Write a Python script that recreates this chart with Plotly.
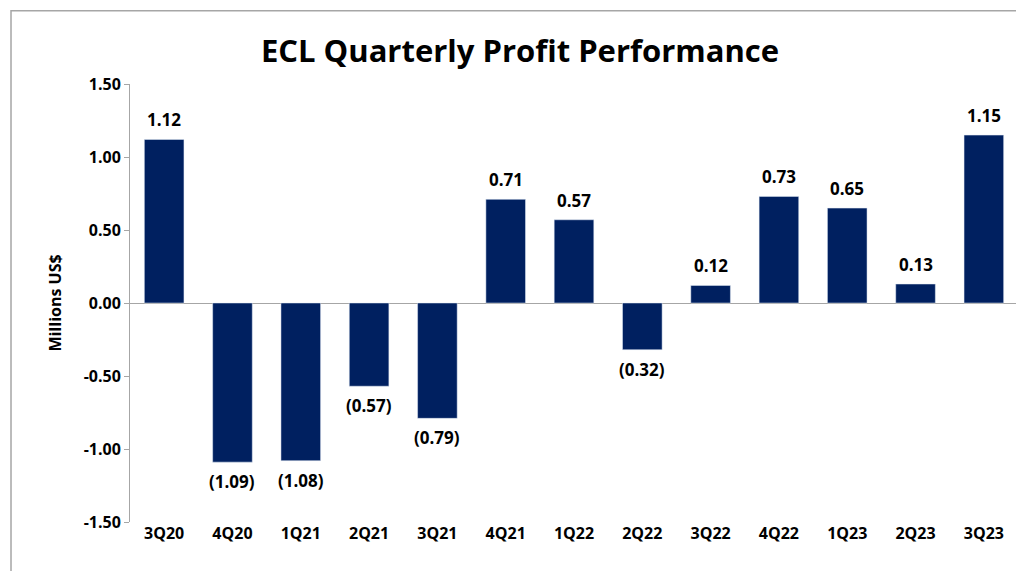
import plotly.graph_objects as go

quarters = ["3Q20","4Q20","1Q21","2Q21","3Q21","4Q21","1Q22","2Q22","3Q22","4Q22","1Q23","2Q23","3Q23"]
profits = [1.12,-1.09,-1.08,-0.57,-0.79,0.71,0.57,-0.32,0.12,0.73,0.65,0.13,1.15]
labels = [f"{v:.2f}" if v >= 0 else f"({abs(v):.2f})" for v in profits]
ytickvals = [-1.5,-1.0,-0.5,0.0,0.5,1.0,1.5]
yticktext = [f"{v:.2f}" for v in ytickvals]

font = dict(family="Open Sans", color="black", weight="bold")
fig = go.Figure(go.Bar(x=quarters, y=profits, marker_color="#002060", width=0.58))
for q, v, t in zip(quarters, profits, labels):
    fig.add_annotation(x=q, y=v, text=t, showarrow=False,
                       yanchor="bottom" if v >= 0 else "top",
                       yshift=6 if v >= 0 else -6, font=dict(size=17, **font))
fig.update_layout(
    width=1024, height=571, paper_bgcolor="white", plot_bgcolor="white",
    margin=dict(l=122, r=14, t=76, b=57, autoexpand=False),
    title=dict(text="<b>ECL Quarterly Profit Performance</b>", x=0.5, xanchor="center",
               y=0.925, yanchor="middle", font=dict(size=31, family="Open Sans", color="black")),
    showlegend=False,
    xaxis=dict(automargin=False, showline=False, ticks="", tickfont=dict(size=16, **font)),
    yaxis=dict(automargin=False, range=[-1.5,1.5], tickvals=ytickvals, ticktext=yticktext, showgrid=False,
               zeroline=True, zerolinecolor="#a6a6a6", zerolinewidth=1, showline=True, linecolor="#a6a6a6",
               ticks="outside", ticklen=5, tickcolor="#a6a6a6", tickfont=dict(size=16, **font),
               title=dict(text="Millions US$", font=dict(size=16, **font), standoff=18)),
    shapes=[dict(type="rect", xref="paper", yref="paper", x0=-0.134, x1=1.011, y0=-0.121, y1=1.167,
                 line=dict(color="#a6a6a6", width=1.5))],
)
fig.write_html("out.html")
